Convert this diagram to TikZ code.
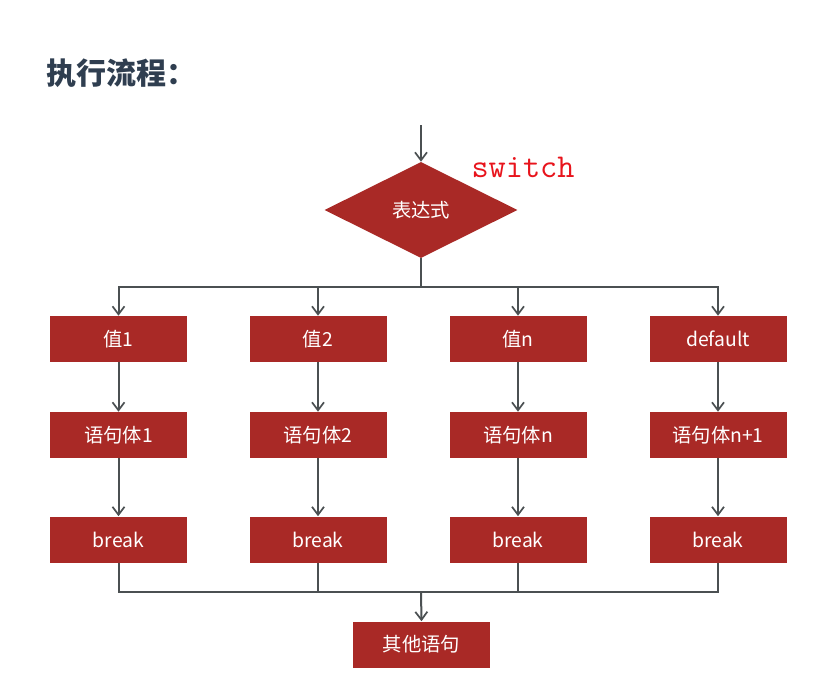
\documentclass[tikz,border=0pt]{standalone}
\usepackage{fontspec}
\usepackage{tikz}
\usetikzlibrary{shapes.geometric, arrows.meta}
\setmainfont{Noto Sans CJK SC}

\definecolor{boxred}{RGB}{169,41,38}
\definecolor{linegray}{RGB}{75,80,82}
\definecolor{titleblue}{RGB}{47,62,80}
\definecolor{switchred}{RGB}{232,20,28}

\tikzset{
  stepbox/.style={rectangle, fill=boxred, draw=none, text=white, minimum width=102.75pt, minimum height=34.5pt, inner sep=0pt, font=\fontsize{14.5}{17}\selectfont},
  flow/.style={draw=linegray, line width=1.5pt},
  flowarr/.style={flow, -{Straight Barb[length=6pt, width=9pt, line width=1.3pt]}}
}

\begin{document}
\begin{tikzpicture}[x=0.75pt,y=0.75pt,yscale=-1,xscale=1]
        \useasboundingbox (0,0) rectangle (826,693);
        \fill[white] (0,0) rectangle (826,693);
        
        % Text Node
        \node (title) [anchor=west, inner sep=0pt, text=titleblue, font=\fontsize{22.5}{25}\selectfont\bfseries] at (46,73) {执行流程：};
        
        %Shape: Diamond
        \node (expr) [diamond, aspect=2, fill=boxred, text=white, minimum width=144.75pt, minimum height=72pt, inner sep=0pt, font=\fontsize{14.5}{17}\selectfont] at (421,210) {表达式};
        % Text Node
        \node (sw) [inner sep=0pt, text=switchred, font=\ttfamily\fontsize{25}{27}\selectfont] at (523,167) {switch};
        
        % Text Node
        \node (v1) [stepbox] at (118.5,339) {值1};
        \node (v2) [stepbox] at (318,339) {值2};
        \node (vn) [stepbox] at (518,339) {值n};
        \node (vd) [stepbox] at (718,339) {default};
        % Text Node
        \node (s1) [stepbox] at (118.5,435) {语句体1};
        \node (s2) [stepbox] at (318,435) {语句体2};
        \node (sn) [stepbox] at (518,435) {语句体n};
        \node (sd) [stepbox] at (718,435) {语句体n+1};
        % Text Node
        \node (b1) [stepbox] at (118.5,539.5) {break};
        \node (b2) [stepbox] at (318,539.5) {break};
        \node (bn) [stepbox] at (518,539.5) {break};
        \node (bd) [stepbox] at (718,539.5) {break};
        % Text Node
        \node (other) [stepbox] at (421.5,644.5) {其他语句};
        
        \coordinate (entry) at (421,125);
        \coordinate (split) at (421,287);
        \coordinate (merge) at (421,592);
        
        % Connectors
        \draw [flowarr] (entry) -- (expr.north);
        \draw [flow] (expr.south) -- (split);
        \draw [flowarr] (split) -| (v1.north);
        \draw [flowarr] (split) -| (v2.north);
        \draw [flowarr] (split) -| (vn.north);
        \draw [flowarr] (split) -| (vd.north);
        \draw [flowarr] (v1) -- (s1);
        \draw [flowarr] (v2) -- (s2);
        \draw [flowarr] (vn) -- (sn);
        \draw [flowarr] (vd) -- (sd);
        \draw [flowarr] (s1) -- (b1);
        \draw [flowarr] (s2) -- (b2);
        \draw [flowarr] (sn) -- (bn);
        \draw [flowarr] (sd) -- (bd);
        \draw [flow] (b1.south) |- (merge);
        \draw [flow] (b2.south) |- (merge);
        \draw [flow] (bn.south) |- (merge);
        \draw [flow] (bd.south) |- (merge);
        \draw [flowarr] (merge) -- (other.north);
        
\end{tikzpicture}
\end{document}
